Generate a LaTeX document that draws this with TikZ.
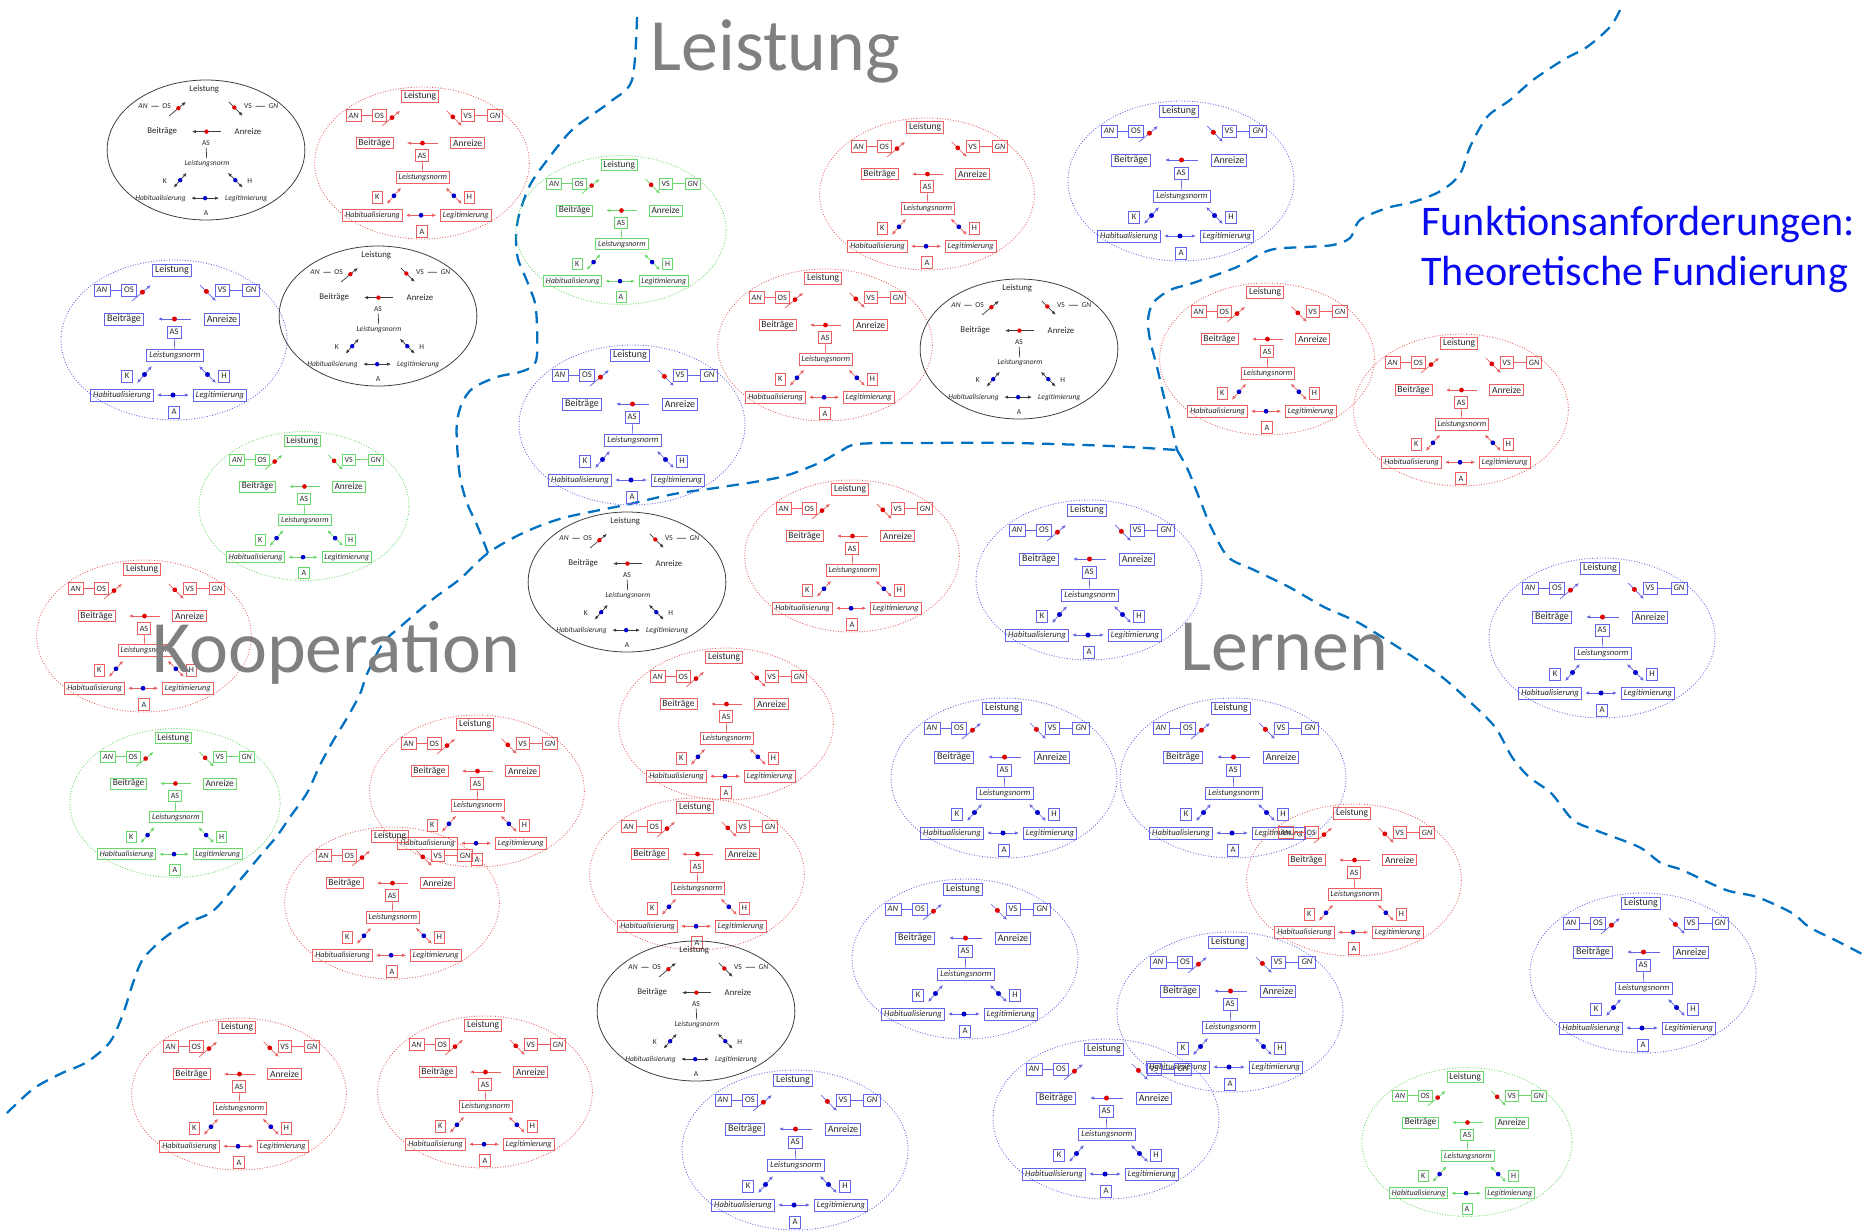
\documentclass[tikz,border=0pt]{standalone}
\usepackage{fontspec}
\setmainfont{Carlito}
\usetikzlibrary{arrows.meta}
\definecolor{rotc}{RGB}{232,96,96}
\definecolor{blauc}{RGB}{100,100,228}
\definecolor{gruenc}{RGB}{105,215,105}
\definecolor{grauc}{RGB}{60,60,60}
\definecolor{punktrot}{RGB}{225,0,0}
\definecolor{punktblau}{RGB}{0,0,205}
\definecolor{grenze}{RGB}{0,112,192}
\definecolor{titelgrau}{RGB}{128,128,128}
\definecolor{fundblau}{RGB}{10,10,240}

\tikzset{
  kasten/.style={draw=#1, line width=0.45pt, text=black!85, inner xsep=1.5pt, inner ysep=0pt,
                 minimum height=0.24cm, minimum width=0.22cm},
  ohne/.style={draw=none, text=black!85, inner xsep=2.2pt, inner ysep=0pt, minimum height=0.2cm},
  gross/.style={font=\fontsize{5.7}{6}\selectfont},
  klein/.style={font=\fontsize{4.9}{6}\selectfont},
  kursiv/.style={font=\fontsize{4.9}{6}\selectfont\itshape},
  pfeil/.style={line width=0.4pt, -{Latex[length=2.3pt,width=1.9pt]}},
  dpfeil/.style={line width=0.4pt, {Latex[length=2.3pt,width=1.9pt]}-{Latex[length=2.3pt,width=1.9pt]}},
  grenzlinie/.style={grenze, line width=1.3pt, dash pattern=on 7pt off 4.5pt},
  feld/.style={titelgrau, font=\fontsize{42}{46}\selectfont, inner sep=0pt, anchor=base west},
  fund/.style={fundblau, font=\fontsize{24}{26}\selectfont, inner sep=0pt, anchor=base west}
}

% one cell: id, x, y, scale, colour, box style, ellipse style
\newcommand{\zelle}[7]{%
\begin{scope}[shift={(#2,#3)}, scale=#4, transform shape]
  \draw[#5, #7] (0,0) ellipse[x radius=113, y radius=80];
  \node[#6=#5, gross]  (#1-lei) at (-2,-70) {Leistung};
  \node[#6=#5, kursiv] (#1-an)  at (-72,-50) {AN};
  \node[#6=#5, klein]  (#1-os)  at (-45,-50) {OS};
  \node[#6=#5, klein]  (#1-vs)  at (48,-50) {VS};
  \node[#6=#5, kursiv] (#1-gn)  at (77,-50) {GN};
  \node[#6=#5, gross]  (#1-bei) at (-50,-21) {Beiträge};
  \node[#6=#5, gross]  (#1-anr) at (48,-21) {Anreize};
  \node[#6=#5, klein]  (#1-as)  at (0,-8) {AS};
  \node[#6=#5, kursiv] (#1-ln)  at (1,15) {Leistungsnorm};
  \node[#6=#5, klein]  (#1-k)   at (-47,36) {K};
  \node[#6=#5, klein]  (#1-h)   at (50,36) {H};
  \node[#6=#5, kursiv] (#1-hab) at (-52,55) {Habitualisierung};
  \node[#6=#5, kursiv] (#1-leg) at (46,55) {Legitimierung};
  \node[#6=#5, klein]  (#1-a)   at (0,72) {A};
  \draw[#5, line width=0.4pt] (#1-an) -- (#1-os);
  \draw[#5, line width=0.4pt] (#1-vs) -- (#1-gn);
  \draw[#5, line width=0.4pt] (#1-as) -- (#1-ln);
  % arrows
  \path (-42,-39) coordinate (#1-o1) (-23,-55) coordinate (#1-o2)
        (26,-55) coordinate (#1-o3) (42,-39) coordinate (#1-o4)
        (17,-21) coordinate (#1-m1) (-16,-21) coordinate (#1-m2)
        (-37,43) coordinate (#1-u1) (-22,26) coordinate (#1-u2)
        (25,26) coordinate (#1-u3) (42,43) coordinate (#1-u4)
        (-17,55) coordinate (#1-u5) (15,55) coordinate (#1-u6);
  \draw[pfeil, #5] (#1-o1) -- (#1-o2);
  \draw[pfeil, #5] (#1-o3) -- (#1-o4);
  \draw[pfeil, #5] (#1-m1) -- (#1-m2);
  \draw[dpfeil, #5] (#1-u1) -- (#1-u2);
  \draw[dpfeil, #5] (#1-u3) -- (#1-u4);
  \draw[dpfeil, #5] (#1-u5) -- (#1-u6);
  % dots
  \fill[punktrot]  ($(#1-o1)!0.55!(#1-o2)$) circle[radius=2.5];
  \fill[punktrot]  ($(#1-o3)!0.4!(#1-o4)$) circle[radius=2.5];
  \fill[punktrot]  ($(#1-m1)!0.5!(#1-m2)$) circle[radius=2.5];
  \fill[punktblau] ($(#1-u1)!0.5!(#1-u2)$) circle[radius=2.5];
  \fill[punktblau] ($(#1-u3)!0.5!(#1-u4)$) circle[radius=2.5];
  \fill[punktblau] ($(#1-u5)!0.5!(#1-u6)$) circle[radius=2.5];
\end{scope}}

\newcommand{\schwarzz}[3]{\zelle{#1}{#2}{#3}{0.875}{grauc}{ohne}{line width=0.45pt}}
\newcommand{\rotz}[3]{\zelle{#1}{#2}{#3}{0.95}{rotc}{kasten}{densely dotted, line width=0.5pt}}
\newcommand{\blauz}[3]{\zelle{#1}{#2}{#3}{1}{blauc}{kasten}{densely dotted, line width=0.5pt}}
\newcommand{\gruenz}[3]{\zelle{#1}{#2}{#3}{0.93}{gruenc}{kasten}{densely dotted, line width=0.5pt}}

\usetikzlibrary{calc}

\begin{document}
\begin{tikzpicture}[x=0.02cm, y=-0.02cm]
\useasboundingbox (0,0) rectangle (1865,1231);

%---------------------------------------
% Boundaries between the fields
%---------------------------------------
\draw[grenzlinie] plot[smooth] coordinates {(637,17) (632,80) (610,102) (573,129) (548,159)
  (530,185) (519,215) (516,237) (518,259) (527,281) (535,303) (537,326) (537,355) (533,366)
  (520,372) (497,377) (473,388) (462,403) (457,422) (457,444) (460,477) (467,503) (477,525)
  (488,553)};
\draw[grenzlinie] plot[smooth] coordinates {(7,1113) (33,1089) (60,1074) (87,1062) (110,1042)
  (123,1014) (133,983) (143,959) (163,939) (187,923) (213,911) (240,880) (260,856) (277,836)
  (290,817) (307,793) (320,765) (333,741) (347,718) (360,694) (367,674) (383,643) (400,627)
  (433,599) (460,579) (488,553) (523,533) (563,518) (625,505) (674,494) (722,487) (781,477)
  (819,463) (839,452) (858,444) (916,443) (1013,443) (1110,446) (1177,450)};
\draw[grenzlinie] plot[smooth] coordinates {(1620,10) (1610,27) (1587,47) (1563,60) (1533,80)
  (1510,100) (1487,117) (1470,147) (1462,170) (1453,182) (1437,193) (1413,202) (1387,208)
  (1360,220) (1350,238) (1333,245) (1307,247) (1270,250) (1237,267) (1193,283) (1170,290)
  (1153,303) (1148,320) (1150,340) (1157,367) (1163,393) (1170,420) (1177,450)};
\draw[grenzlinie] plot[smooth] coordinates {(1177,450) (1188,470) (1202,505) (1211,527)
  (1228,557) (1254,570) (1289,587) (1324,607) (1359,623) (1407,653) (1442,677) (1468,700)
  (1495,727) (1512,757) (1529,777) (1551,793) (1573,820) (1595,830) (1639,847) (1661,863)
  (1682,870) (1726,890) (1757,897) (1792,913) (1809,927) (1835,940) (1864,955)};

%---------------------------------------
% Cells
%---------------------------------------
\schwarzz{z1}{206}{150}
\rotz{z2}{422}{163}
\gruenz{z3}{621}{230}
\rotz{z4}{927}{194}
\blauz{z5}{1181}{181}
\blauz{z6}{174}{340}
\schwarzz{z7}{378}{316}
\rotz{z8}{825}{345}
\schwarzz{z9}{1019}{349}
\rotz{z10}{1267}{359}
\rotz{z11}{1461}{410}
\blauz{z12}{632}{425}
\gruenz{z13}{304}{506}
\schwarzz{z14}{627}{582}
\rotz{z15}{852}{556}
\blauz{z16}{1089}{580}
\blauz{z17}{1602}{638}
\rotz{z18}{144}{636}
\rotz{z19}{726}{724}
\gruenz{z20}{175}{803}
\rotz{z21}{477}{791}
\blauz{z22}{1004}{778}
\blauz{z23}{1233}{778}
\rotz{z24}{697}{874}
\rotz{z25}{1354}{880}
\rotz{z26}{392}{903}
\blauz{z27}{965}{959}
\blauz{z28}{1643}{973}
\blauz{z29}{1230}{1012}
\schwarzz{z30}{696}{1011}
\rotz{z31}{239}{1094}
\rotz{z32}{485}{1092}
\blauz{z33}{1106}{1119}
\blauz{z34}{795}{1150}
\gruenz{z35}{1467}{1142}

%---------------------------------------
% Field names and title
%---------------------------------------
\node[feld] (leistung) at (650,70) {Leistung};
\node[feld] (kooperation) at (152,672) {Kooperation};
\node[feld] (lernen) at (1180,670) {Lernen};
\node[fund] (fund1) at (1421,235) {Funktionsanforderungen:};
\node[fund] (fund2) at (1421,285) {Theoretische Fundierung};
\end{tikzpicture}
\end{document}
